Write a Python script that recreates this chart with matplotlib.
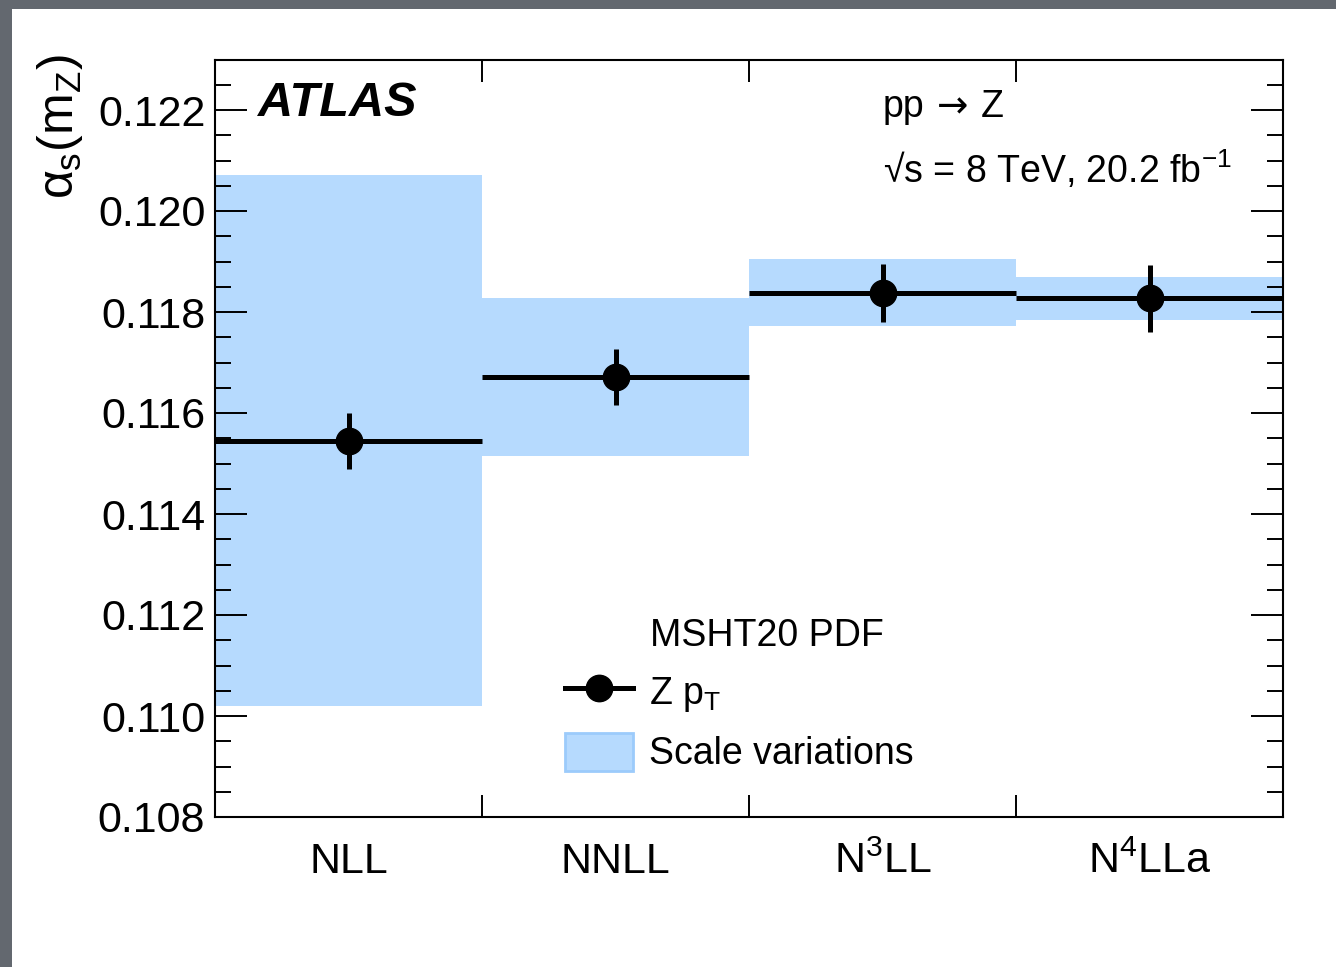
import matplotlib
matplotlib.use("Agg")
import matplotlib.pyplot as plt
from matplotlib.lines import Line2D
from matplotlib.patches import Patch, Rectangle
from matplotlib.offsetbox import TextArea, HPacker, AnchoredOffsetbox
from matplotlib.ticker import MultipleLocator, FormatStrFormatter, FixedLocator, NullFormatter
import numpy as np

plt.rcParams["font.family"] = ["Liberation Sans", "DejaVu Sans"]
plt.rcParams["mathtext.fontset"] = "custom"
plt.rcParams["mathtext.rm"] = "Liberation Sans"
plt.rcParams["mathtext.it"] = "Liberation Sans"
plt.rcParams["mathtext.bf"] = "Liberation Sans:bold"

# Extracted alpha_s(m_Z) per logarithmic order
orders = ["NLL", "NNLL", r"N$^3$LL", r"N$^4$LLa"]
alphas = [0.11545, 0.11671, 0.11838, 0.11827]
alphas_err = [0.00055, 0.00056, 0.00058, 0.00066]
scale_up = [0.12072, 0.11828, 0.11904, 0.11869]
scale_down = [0.11020, 0.11515, 0.11773, 0.11784]

W, H = 1336, 967
fig = plt.figure(figsize=(W / 100, H / 100), dpi=100)
fig.patch.set_facecolor("white")

# grey frame along the top and left edges
frame_col = "#63686f"
fig.patches.append(Rectangle((0, 1 - 8.5 / H), 1, 8.5 / H, transform=fig.transFigure,
                             facecolor=frame_col, edgecolor="none", zorder=0))
fig.patches.append(Rectangle((0, 0), 12 / W, 1, transform=fig.transFigure,
                             facecolor=frame_col, edgecolor="none", zorder=0))

left, right, bottom, top = 215 / W, 1283 / W, 1 - 817 / H, 1 - 59.5 / H
ax = fig.add_axes([left, bottom, right - left, top - bottom])

band_col = "#b6dafe"
x = np.arange(len(orders)) + 0.5
up = np.array(scale_up)
dn = np.array(scale_down)
ax.bar(x, up - dn, bottom=dn, width=1.0, color=band_col, linewidth=0, zorder=1)

ax.errorbar(x, alphas, xerr=0.5, yerr=alphas_err, fmt="o", color="black",
            markersize=19, elinewidth=3.6, capsize=0, zorder=3)

ax.set_xlim(0, len(orders))
ax.set_ylim(0.108, 0.123)

# x: ticks on bin edges, labels at bin centres
ax.xaxis.set_major_locator(FixedLocator(np.arange(len(orders) + 1)))
ax.xaxis.set_major_formatter(NullFormatter())
ax.xaxis.set_minor_locator(FixedLocator(x))
ax.set_xticklabels(orders, minor=True)
ax.tick_params(axis="x", which="major", direction="in", length=16, width=1.4,
               top=True, bottom=True)
ax.tick_params(axis="x", which="minor", length=0, labelsize=31, pad=18)

ax.yaxis.set_major_locator(MultipleLocator(0.002))
ax.yaxis.set_minor_locator(MultipleLocator(0.0005))
ax.yaxis.set_major_formatter(FormatStrFormatter("%.3f"))
ax.tick_params(axis="y", which="major", direction="in", length=23, width=1.4,
               left=True, right=True, labelsize=31, pad=7)
ax.tick_params(axis="y", which="minor", direction="in", length=11.5, width=1.4,
               left=True, right=True)
for s in ax.spines.values():
    s.set_linewidth(1.5)

fig.text(60 / W, 1 - 54 / H, r"$\alpha_\mathrm{s}(\mathrm{m}_\mathrm{Z})$",
         rotation=90, ha="center", va="top", fontsize=36)

fig.text(258 / W, 1 - 116 / H, "ATLAS", fontsize=35, fontweight="bold",
         fontstyle="italic", ha="left", va="baseline")

# process label: the arrow comes from DejaVu Sans for a full-size glyph
proc = HPacker(children=[
    TextArea("pp", textprops=dict(fontsize=27)),
    TextArea("\u2192", textprops=dict(fontsize=27, family="DejaVu Sans")),
    TextArea("Z", textprops=dict(fontsize=27)),
], sep=9, pad=0, align="baseline")
fig.add_artist(AnchoredOffsetbox(loc="lower left", child=proc, pad=0, borderpad=0,
                                 frameon=False, bbox_to_anchor=(883 / W, 1 - 125 / H),
                                 bbox_transform=fig.transFigure))
fig.text(883 / W, 1 - 183 / H, "\u221as = 8 TeV, 20.2 fb$^{-1}$",
         fontsize=27, ha="left", va="baseline")

fig.text(650 / W, 1 - 646 / H, "MSHT20 PDF", fontsize=27, ha="left", va="baseline")

handles = [
    Line2D([], [], color="black", lw=3.6, marker="o", markersize=19),
    Patch(facecolor=band_col, edgecolor="#9ccbfb", linewidth=2),
]
labels = [r"Z p$_\mathrm{T}$", "Scale variations"]
ax.legend(handles, labels, loc="upper left",
          bbox_to_anchor=(565 / W, 1 - 672 / H), bbox_transform=fig.transFigure,
          frameon=False, fontsize=27, handlelength=1.8, handleheight=1.2,
          handletextpad=0.45, labelspacing=0.5, borderpad=0, borderaxespad=0)

fig.savefig("out.png", dpi=100)
